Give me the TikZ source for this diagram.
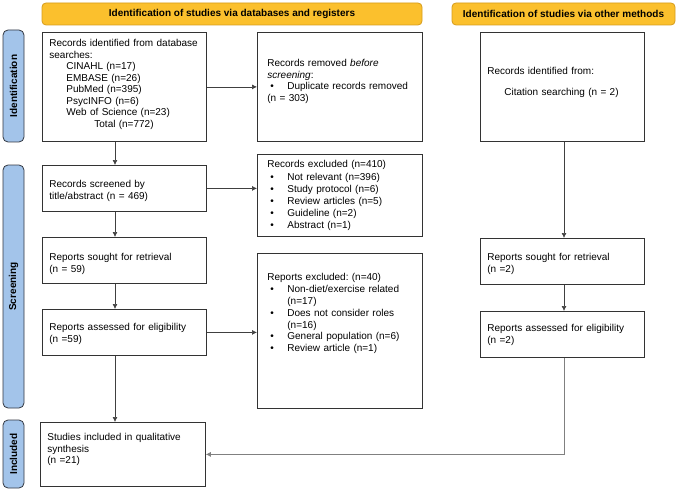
\documentclass[tikz,border=0pt]{standalone}
\usepackage{fontspec}
\setmainfont{Liberation Sans}
\frenchspacing
\usetikzlibrary{arrows.meta}
\definecolor{bannerfill}{RGB}{251,192,45}
\definecolor{bannerline}{RGB}{214,156,28}
\definecolor{sidefill}{RGB}{163,196,234}
\definecolor{sideline}{RGB}{50,55,65}
% bullet item with hanging indent
\newcommand{\bitem}{\par\hangindent=20pt\hangafter=1\noindent\makebox[20pt][l]{\hspace{3pt}\textbullet}}

\begin{document}
\begin{tikzpicture}[x=1pt,y=-1pt]
    \tikzstyle{box}=[draw=black!80, line width=0.8pt, anchor=north west, inner xsep=7pt, inner ysep=0pt, text width=150pt, align=left, font=\fontsize{10}{11.5}\selectfont]
    \tikzstyle{midbox}=[box, inner xsep=10pt, text width=145pt]
    \tikzstyle{banner}=[draw=bannerline, fill=bannerfill, line width=0.8pt, rounded corners=4pt, minimum height=22pt, font=\fontsize{10}{12}\selectfont\bfseries]
    \tikzstyle{side}=[draw=sideline, fill=sidefill, line width=0.8pt, rounded corners=5pt, rotate=90, minimum height=21pt, font=\fontsize{10}{12}\selectfont\bfseries]
    \tikzstyle{arr}=[-{Latex[length=5pt,width=5pt]}, draw=black!75, line width=0.7pt]
    \useasboundingbox (0,0) rectangle (676,489);
    % headers
    \node[banner, minimum width=380pt] (dbhead) at (232,14) {Identification of studies via databases and registers};
    \node[banner, minimum width=223pt] (othhead) at (563.5,14) {Identification of studies via other methods};
    % phases
    \node[side, minimum width=112pt] (ident) at (13.5,86) {Identification};
    \node[side, minimum width=243pt] (screen) at (13.5,286.5) {Screening};
    \node[side, minimum width=68pt] (incl) at (13.5,454) {Included};
    % databases column
    \node[box, text height=14.5pt, text depth=94.5pt] (db) at (42,32) {Records identified from database\\searches:\\
        \hspace*{17pt}CINAHL (n=17)\\
        \hspace*{17pt}EMBASE (n=26)\\
        \hspace*{17pt}PubMed (n=395)\\
        \hspace*{17pt}PsycINFO (n=6)\\
        \hspace*{17pt}Web of Science (n=23)\\
        \hspace*{45pt}Total (n=772)};
    \node[box, text height=22.5pt, text depth=23.5pt] (screened) at (42,165) {Records screened by\\title/abstract (n = 469)};
    \node[box, text height=23.5pt, text depth=22.5pt] (sought) at (42,237) {Reports sought for retrieval\\(n = 59)};
    \node[box, text height=21.5pt, text depth=24.5pt] (assessed) at (42,309) {Reports assessed for eligibility\\(n =59)};
    \node[box, text width=151pt, text height=18.5pt, text depth=45.5pt] (included) at (40,422) {Studies included in qualitative\\synthesis\\(n =21)};
    % excluded column
    \node[midbox, text height=34.5pt, text depth=74.5pt] (removed) at (257,32) {Records removed \textit{before}\\\textit{screening}:
        \bitem Duplicate records removed\newline(n = 303)};
    \node[midbox, text height=13.5pt, text depth=68.5pt, font=\fontsize{10}{12.2}\selectfont] (excluded) at (257,154) {Records excluded (n=410)
        \bitem Not relevant (n=396)
        \bitem Study protocol (n=6)
        \bitem Review articles (n=5)
        \bitem Guideline (n=2)
        \bitem Abstract (n=1)};
    \node[midbox, text height=27.5pt, text depth=127.5pt, font=\fontsize{10}{11.8}\selectfont] (rexcl) at (257,253) {Reports excluded: (n=40)
        \bitem Non-diet/exercise related\newline(n=17)
        \bitem Does not consider roles\newline(n=16)
        \bitem General population (n=6)
        \bitem Review article (n=1)};
    % other methods column
    \node[box, text height=42.5pt, text depth=66.5pt] (other) at (480,32) {Records identified from:\\[9pt]\hspace*{17pt}Citation searching (n = 2)};
    \node[box, text height=22.5pt, text depth=23.5pt] (osought) at (480,238) {Reports sought for retrieval\\(n =2)};
    \node[box, text height=20.5pt, text depth=25.5pt] (oassessed) at (480,311) {Reports assessed for eligibility\\(n =2)};
    % connectors
    \coordinate (lx) at (115,0);
    \coordinate (ox) at (564,0);
    \draw[arr] (db.south -| lx) -- (screened.north -| lx);
    \draw[arr] (screened.south -| lx) -- (sought.north -| lx);
    \draw[arr] (sought.south -| lx) -- (assessed.north -| lx);
    \draw[arr] (assessed.south -| lx) -- (included.north -| lx);
    \draw[arr] (db.east) -- (db.east -| removed.west);
    \draw[arr] (screened.east) -- (screened.east -| excluded.west);
    \draw[arr] (assessed.east) -- (assessed.east -| rexcl.west);
    \draw[arr] (other.south -| ox) -- (osought.north -| ox);
    \draw[arr] (osought.south -| ox) -- (oassessed.north -| ox);
    \draw[arr, draw=black!50] (oassessed.south -| ox) |- (included.east);
\end{tikzpicture}
\end{document}
